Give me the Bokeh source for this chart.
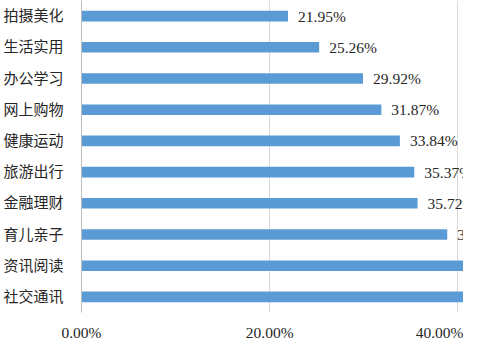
from bokeh.plotting import figure
from bokeh.models import ColumnDataSource, FactorRange, Range1d, FixedTicker, PrintfTickFormatter
from bokeh.core.properties import value
from bokeh.embed import file_html
from bokeh.resources import INLINE

# Categories listed top to bottom
categories = ["拍摄美化", "生活实用", "办公学习", "网上购物", "健康运动",
              "旅游出行", "金融理财", "育儿亲子", "资讯阅读", "社交通讯"]
values = [21.95, 25.26, 29.92, 31.87, 33.84, 35.37, 35.72, 38.87, 45.12, 51.03]
labels = ["21.95%", "25.26%", "29.92%", "31.87%", "33.84%",
          "35.37%", "35.72%", "38.87%", "45.12%", "51.03%"]
x_ticks = [0, 20, 40]

SERIF = "'Liberation Serif', 'Times New Roman', serif"

src = ColumnDataSource(dict(cat=categories, val=values, lab=labels))

p = figure(width=463, height=343, output_backend="svg", toolbar_location=None,
           y_range=FactorRange(factors=categories[::-1], range_padding=0),
           x_range=Range1d(0, 40.6),
           min_border_left=72, min_border_right=0, min_border_top=0, min_border_bottom=23)
p.styles = {"overflow": "hidden"}

p.hbar(y="cat", right="val", left=0, height=0.34, source=src,
       fill_color="#5B9BD5", line_color=None)

p.text(x="val", y="cat", text="lab", source=src, x_offset=10,
       text_baseline="middle", text_align="left",
       text_font=value(SERIF), text_font_size="15.5px", text_color="#262626")

p.outline_line_color = None
p.ygrid.grid_line_color = None
p.xgrid.grid_line_color = "#D9D9D9"
p.xgrid.grid_line_width = 1
p.xaxis.ticker = FixedTicker(ticks=x_ticks)
p.xaxis.formatter = PrintfTickFormatter(format="%.2f%%")
p.xaxis.axis_line_color = None
p.xaxis.major_tick_line_color = None
p.xaxis.minor_tick_line_color = None
p.xaxis.major_label_standoff = 5
p.xaxis.major_label_text_font = SERIF
p.xaxis.major_label_text_font_size = "15.5px"
p.xaxis.major_label_text_color = "#262626"

p.yaxis.axis_line_color = "#BFBFBF"
p.yaxis.major_tick_line_color = None
p.yaxis.minor_tick_line_color = None
p.yaxis.major_label_standoff = 12
p.yaxis.major_label_text_font = "'Liberation Serif', 'Noto Sans CJK SC', serif"
p.yaxis.major_label_text_font_size = "15px"
p.yaxis.major_label_text_color = "#262626"

open("out.html", "w").write(file_html(p, INLINE))
